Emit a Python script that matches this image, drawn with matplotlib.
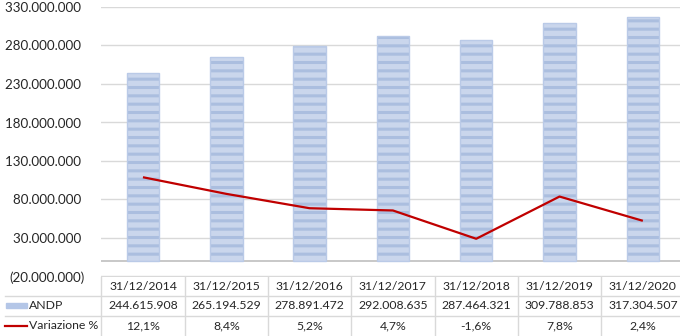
import matplotlib
matplotlib.use('Agg')
import matplotlib.pyplot as plt
from matplotlib.transforms import blended_transform_factory
from matplotlib.patches import Rectangle

# ---- data ----
dates = ["31/12/2014", "31/12/2015", "31/12/2016", "31/12/2017",
         "31/12/2018", "31/12/2019", "31/12/2020"]
andp = [244615908, 265194529, 278891472, 292008635, 287464321, 309788853, 317304507]
variazione = [12.1, 8.4, 5.2, 4.7, -1.6, 7.8, 2.4]
yticks = list(range(-20_000_000, 330_000_001, 50_000_000))
series_names = ["ANDP", "Variazione %"]


def fmt_it(v):
    s = f"{abs(v):,}".replace(",", ".")
    return f"({s})" if v < 0 else s + " "


def fmt_pct(v):
    return f"{v:.1f}%".replace(".", ",")


plt.rcParams['font.family'] = ['Lato', 'DejaVu Sans']
plt.rcParams['hatch.linewidth'] = 2.2

W, H = 680, 336
fig = plt.figure(figsize=(W / 100, H / 100), dpi=100)
fig.patch.set_facecolor('white')

ax = fig.add_axes([101.3 / W, 1 - 276.5 / H, 583.2 / W, 269.5 / H])
x = list(range(len(dates)))
ax.set_xlim(-0.5, len(dates) - 0.5)
ax.set_ylim(yticks[0], yticks[-1])
ax.set_yticks(yticks)
ax.set_yticklabels([fmt_it(v) for v in yticks], fontsize=9.6, color='#262626')
ax.tick_params(axis='y', length=0, pad=12)
ax.set_xticks([])
for s in ax.spines.values():
    s.set_visible(False)
ax.yaxis.grid(True, color='#D9D9D9', lw=1)
ax.set_axisbelow(True)
ax.axhline(0, color='#BFBFBF', lw=1.2, zorder=1)

ax.bar(x, andp, width=0.39, color='#CAD6EC', edgecolor='#ABBEDF',
       hatch='--', linewidth=0, zorder=2)
ax.bar(x, andp, width=0.39, fill=False, edgecolor='#BACAE7', linewidth=1, zorder=3)

ax2 = ax.twinx()
ax2.plot(x, variazione, color='#C00000', lw=1.6, solid_capstyle='butt')
ax2.set_ylim(-10, 50)
ax2.axis('off')

# ---- data table ----
ov = fig.add_axes([0, 0, 1, 1])
ov.set_xlim(0, W)
ov.set_ylim(H, 0)
ov.axis('off')
trans = blended_transform_factory(ax.transData, ov.transData)

fig.canvas.draw()
right_px = ax.transData.transform((len(dates) - 0.5, 0))[0]

grid_c = '#D9D9D9'
top, r1, r2, bottom = 276.5, 295.5, 315.5, 336
for i in range(len(dates) + 1):
    ov.plot([i - 0.5, i - 0.5], [top, bottom], color=grid_c, lw=1, transform=trans)
for yy in (r1, r2):
    ov.plot([5, right_px], [yy, yy], color=grid_c, lw=1)

fs = 8.8
txt_kw = dict(fontsize=fs, color='#262626', ha='center', va='center')
for i in range(len(dates)):
    ov.text(i, 286, dates[i], transform=trans, **txt_kw)
    ov.text(i, 305.8, fmt_it(andp[i]).strip(), transform=trans, **txt_kw)
    ov.text(i, 325.8, fmt_pct(variazione[i]), transform=trans, **txt_kw)

ov.add_patch(Rectangle((6, 303.3), 21, 5, color='#B4C6E7'))
ov.plot([5, 27], [325.8, 325.8], color='#C00000', lw=1.6)
ov.text(29, 305.8, series_names[0], fontsize=fs, color='#262626', ha='left', va='center')
ov.text(29, 325.8, series_names[1], fontsize=fs, color='#262626', ha='left', va='center')

fig.savefig('out.png', dpi=100, facecolor='white')
